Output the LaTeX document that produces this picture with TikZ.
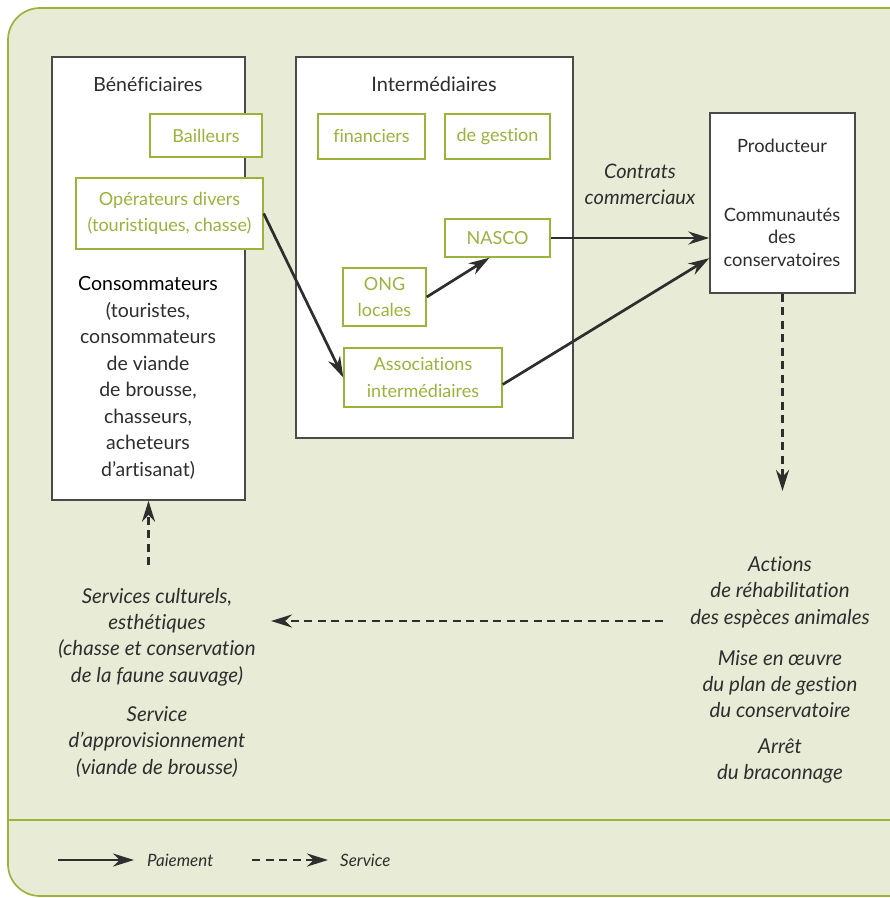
\documentclass[tikz,border=0pt]{standalone}
\usepackage{fontspec}
\setmainfont{Lato}[Ligatures=NoCommon]
\usetikzlibrary{arrows.meta}
\definecolor{vert}{HTML}{9BB33B}
\definecolor{fond}{HTML}{E8ECD6}
\definecolor{gris}{HTML}{2E2E2E}
\definecolor{bord}{HTML}{4A4A48}

\begin{document}
\begin{tikzpicture}[x=1pt,y=-1pt,
box/.style = {draw=bord, fill=white, line width=1.4pt, inner sep=0pt},
gbox/.style = {draw=vert, fill=white, text=vert, line width=1.4pt, align=center, inner sep=0pt},
txt/.style = {text=gris, align=center, inner sep=0pt},
it/.style = {txt, font=\fontsize{20.5}{26.3}\selectfont\itshape},
pay/.style = {-{Stealth[length=21pt,width=13pt]}, line width=2.7pt, draw=gris},
serv/.style = {pay, dash pattern=on 8pt off 5.5pt},
font=\fontsize{18}{26.5}\selectfont]
\useasboundingbox (0,0) rectangle (890,898);
% fond et legende
\draw[vert, fill=fond, line width=1.7pt, rounded corners=32pt] (8,8) rectangle (940,896);
\draw[vert, line width=1.7pt] (8,820) -- (890,820);

% cadres
\node[box, minimum width=193, minimum height=443] (benef) at (148.5,278.5) {};
\node[box, minimum width=277, minimum height=381] (interm) at (434.5,247.5) {};
\node[box, minimum width=145, minimum height=180] (prod) at (782.5,203) {};
\node[txt, font=\fontsize{19.5}{22}\selectfont] (benefT) at (148,84) {Bénéficiaires};
\node[txt, font=\fontsize{20}{22}\selectfont] (intermT) at (434,84) {Intermédiaires};
\node[txt, font=\fontsize{18.3}{22.5}\selectfont] (prodT) at (782,146) {Producteur};
\node[txt, font=\fontsize{18.3}{22.5}\selectfont] (commu) at (782,237) {Communautés\\des\\conservatoires};

% acteurs
\node[gbox, minimum width=112, minimum height=43] (bailleurs) at (206,135.5) {Bailleurs};
\node[gbox, minimum width=187, minimum height=71] (operateurs) at (169.5,213.5) {Opérateurs divers\\(touristiques, chasse)};
\node[gbox, minimum width=107, minimum height=45] (financiers) at (371.5,136.5) {financiers};
\node[gbox, minimum width=105, minimum height=45] (gestion) at (497.5,136.5) {de gestion};
\node[gbox, minimum width=105, minimum height=38] (nasco) at (497.5,238) {NASCO};
\node[gbox, minimum width=83, minimum height=58] (ong) at (384.5,297) {ONG\\locales};
\node[gbox, minimum width=158, minimum height=59] (assoc) at (423,377.5) {Associations\\intermédiaires};
\node[txt, font=\fontsize{19.5}{26.5}\selectfont] (conso) at (148,378) {\color{black}Consommateurs\\(touristes,\\consommateurs\\de viande\\de brousse,\\chasseurs,\\acheteurs\\d'artisanat)};
\node[it, font=\fontsize{20}{26}\selectfont\itshape] (contrats) at (640,184) {Contrats\\commerciaux};

% services
\node[it] (servA) at (157,637) {Services culturels,\\esthétiques\\(chasse et conservation\\de la faune sauvage)};
\node[it] (servB) at (157,742) {Service\\d'approvisionnement\\(viande de brousse)};
\node[it] (actions) at (780,592) {Actions\\de réhabilitation\\des espèces animales};
\node[it] (mise) at (780,684) {Mise en œuvre\\du plan de gestion\\du conservatoire};
\node[it] (arret) at (780,761) {Arrêt\\du braconnage};

\coordinate (basprod) at (782.5,491);
\coordinate (depart) at (663,621);
\coordinate (arrivee) at (271,621);
\coordinate (hautserv) at (148.5,565);

% paiements
\draw[pay] (operateurs.east) -- (assoc.west);
\draw[pay] (ong.east) -- (nasco.-112);
\draw[pay] (nasco.east) -- (prod.west |- nasco.east);
\draw[pay] (assoc.-5) -- (prod.-143);
% services
\draw[serv] (prod.south) -- (basprod);
\draw[serv] (depart) -- (arrivee);
\draw[serv] (hautserv) -- (benef.south);

% legende
\coordinate (l1) at (58,860);
\coordinate (l2) at (134,860);
\coordinate (l3) at (252,860);
\coordinate (l4) at (328,860);
\node[it, anchor=west, font=\fontsize{17}{18}\selectfont\itshape] (paiement) at (147,860) {Paiement};
\node[it, anchor=west, font=\fontsize{17}{18}\selectfont\itshape] (service) at (340,860) {Service};
\draw[pay] (l1) -- (l2);
\draw[serv] (l3) -- (l4);
\end{tikzpicture}
\end{document}
